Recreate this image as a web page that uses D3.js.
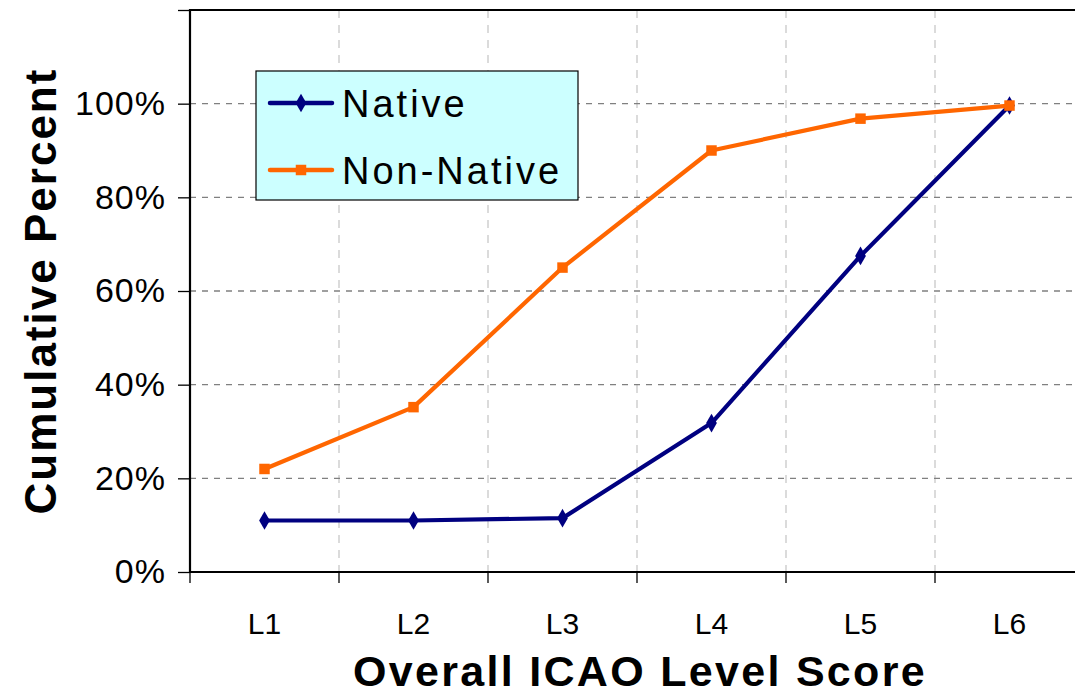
<!DOCTYPE html>
<html><head><meta charset="utf-8">
<script src="https://cdn.jsdelivr.net/npm/d3@7"></script>
<style>
html,body{margin:0;padding:0;background:#fff;}
svg{display:block;}
</style></head>
<body>
<svg id="chart" width="1075" height="697"></svg>
<script>
const categories = ["L1","L2","L3","L4","L5","L6"];
const nativeValues = [0.11, 0.11, 0.115, 0.318, 0.675, 0.996];
const nonNativeValues = [0.22, 0.352, 0.65, 0.90, 0.968, 0.996];
const yTickValues = [0, 0.2, 0.4, 0.6, 0.8, 1.0];
const yTickLabels = ["0%","20%","40%","60%","80%","100%"];
const seriesNames = ["Native","Non-Native"];

(function(){
const svg = d3.select("#chart");
const mLeft = 190, mTop = 10, mBottom = 572, step = 149;
const x = d3.scaleBand().domain(categories).range([mLeft, mLeft + step*categories.length]).padding(0);
const y = d3.scaleLinear().domain([0, 1.2]).range([mBottom, mTop]);
const cx = c => x(c) + x.bandwidth()/2;

// vertical gridlines at category boundaries
const bounds = categories.slice(1).map(c => x(c));
svg.append("g").selectAll("line").data(bounds).join("line")
  .attr("x1", d=>d).attr("x2", d=>d).attr("y1", mTop).attr("y2", mBottom)
  .attr("stroke", "#c8c8c8").attr("stroke-width", 1.3).attr("stroke-dasharray", "8,7");

// horizontal gridlines
svg.append("g").selectAll("line").data(yTickValues.slice(1)).join("line")
  .attr("x1", mLeft).attr("x2", 1075).attr("y1", d=>y(d)).attr("y2", d=>y(d))
  .attr("stroke", "#808080").attr("stroke-width", 1.3).attr("stroke-dasharray", "6,6");

// axes
const yAxis = d3.axisLeft(y).tickValues([...yTickValues, 1.2]).tickSize(12)
  .tickFormat((d,i) => i < yTickLabels.length ? yTickLabels[i] : "");
const gy = svg.append("g").attr("transform", `translate(${mLeft},0)`).call(yAxis);
gy.select(".domain").remove();
gy.selectAll(".tick line").attr("stroke", "#000").attr("stroke-width", 1.3);
gy.selectAll(".tick text").attr("x", -24).attr("font-family", "Liberation Sans, Arial, sans-serif")
  .attr("font-size", 34).attr("letter-spacing", 1).attr("fill", "#000");

const xAxis = d3.axisBottom(x).tickSize(0).tickFormat(d=>d);
const gx = svg.append("g").attr("transform", `translate(0,${mBottom})`).call(xAxis);
gx.select(".domain").remove();
gx.selectAll(".tick text").attr("y", 52).attr("dy", "0.32em")
  .attr("font-family", "Liberation Sans, Arial, sans-serif").attr("font-size", 30).attr("fill", "#000");
// x ticks at boundaries
svg.append("g").selectAll("line").data([mLeft, ...bounds]).join("line")
  .attr("x1", d=>d).attr("x2", d=>d).attr("y1", mBottom).attr("y2", mBottom+11)
  .attr("stroke", "#000").attr("stroke-width", 1.3);

// frame lines
svg.append("line").attr("x1", mLeft).attr("x2", 1075).attr("y1", mTop).attr("y2", mTop)
  .attr("stroke", "#000").attr("stroke-width", 2.2);
svg.append("line").attr("x1", mLeft).attr("x2", mLeft).attr("y1", mTop-1).attr("y2", mBottom+1)
  .attr("stroke", "#000").attr("stroke-width", 2.2);
svg.append("line").attr("x1", mLeft).attr("x2", 1075).attr("y1", mBottom).attr("y2", mBottom)
  .attr("stroke", "#000").attr("stroke-width", 2.2);

// series
const colors = ["#000080", "#FF6600"];
const line = d3.line().x((d,i)=>cx(categories[i])).y(d=>y(d));
[nativeValues, nonNativeValues].forEach((vals, si) => {
  svg.append("path").datum(vals).attr("d", line).attr("fill", "none")
    .attr("stroke", colors[si]).attr("stroke-width", 4.2).attr("stroke-linejoin", "round");
  const sym = si === 0 ? d3.symbolDiamond : d3.symbolSquare;
  svg.append("g").selectAll("path").data(vals).join("path")
    .attr("transform", (d,i)=>`translate(${cx(categories[i])},${y(d)})`)
    .attr("d", d3.symbol().type(sym).size(si === 0 ? 100 : 110))
    .attr("fill", colors[si]);
});

// legend
const lg = svg.append("g");
lg.append("rect").attr("x", 256).attr("y", 71).attr("width", 322).attr("height", 129)
  .attr("fill", "#CCFFFF").attr("stroke", "#000").attr("stroke-width", 1.2);
seriesNames.forEach((name, i) => {
  const ly = 103 + i*67;
  lg.append("line").attr("x1", 270).attr("x2", 332).attr("y1", ly).attr("y2", ly)
    .attr("stroke", colors[i]).attr("stroke-width", 4.5).attr("stroke-linecap", "round");
  lg.append("path").attr("transform", `translate(301,${ly})`)
    .attr("d", d3.symbol().type(i === 0 ? d3.symbolDiamond : d3.symbolSquare).size(i===0?100:110))
    .attr("fill", colors[i]);
  lg.append("text").attr("x", 342).attr("y", ly).attr("dy", "0.36em")
    .attr("font-family", "Liberation Sans, Arial, sans-serif").attr("font-size", 38)
    .attr("letter-spacing", 3).attr("fill", "#000").text(name);
});

// axis titles
svg.append("text").attr("x", 640).attr("y", 686).attr("text-anchor", "middle")
  .attr("font-family", "Liberation Sans, Arial, sans-serif").attr("font-weight", "bold")
  .attr("font-size", 43).attr("letter-spacing", 2.3).attr("fill", "#000").text("Overall ICAO Level Score");
svg.append("text").attr("transform", "translate(56,291) rotate(-90)").attr("text-anchor", "middle")
  .attr("font-family", "Liberation Sans, Arial, sans-serif").attr("font-weight", "bold")
  .attr("font-size", 44).attr("letter-spacing", 2).attr("fill", "#000").text("Cumulative Percent");
})();
</script>
</body></html>
